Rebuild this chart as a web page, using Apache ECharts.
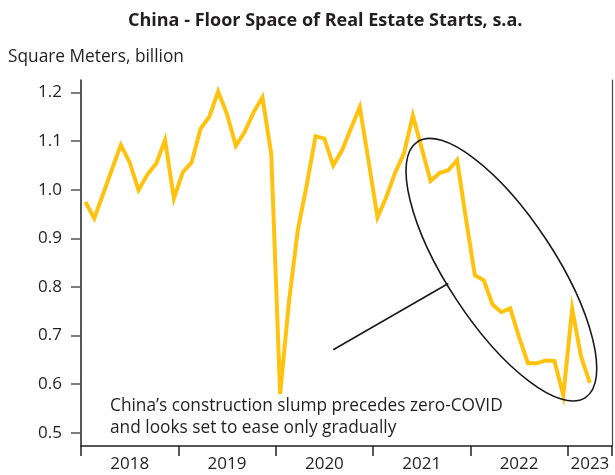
<!DOCTYPE html>
<html>
<head>
<meta charset="utf-8">
<script src="https://cdn.jsdelivr.net/npm/echarts@6/dist/echarts.min.js"></script>
<style>
  html, body { margin: 0; padding: 0; background: #ffffff; }
  #chart { width: 615px; height: 475px; }
</style>
</head>
<body>
<div id="chart"></div>
<script>
// Reporting periods: NBS publishes January and February combined, so 11 points a year.
const years = ['2018', '2019', '2020', '2021', '2022', '2023'];
const periods = ['Jan-Feb', 'Mar', 'Apr', 'May', 'Jun', 'Jul', 'Aug', 'Sep', 'Oct', 'Nov', 'Dec'];
const periods2023 = ['Jan-Feb', 'Mar', 'Apr', 'May', 'Jun'];

const categories = [];
years.forEach(function (y) {
  (y === '2023' ? periods2023 : periods).forEach(function (p) { categories.push(y + ' ' + p); });
});

// Floor space of new real estate starts, seasonally adjusted (square meters, billion)
const floorSpace = [
  0.975, 0.941, 0.991, 1.042, 1.092, 1.056, 0.999, 1.031, 1.054, 1.102, 0.982,
  1.036, 1.056, 1.125, 1.150, 1.202, 1.155, 1.090, 1.119, 1.159, 1.190, 1.073,
  0.580, 0.770, 0.917, 1.009, 1.110, 1.105, 1.050, 1.081, 1.126, 1.170, 1.058,
  0.943, 0.985, 1.035, 1.075, 1.152, 1.085, 1.018, 1.034, 1.040, 1.061, 0.940,
  0.824, 0.814, 0.764, 0.748, 0.756, 0.697, 0.643, 0.643, 0.649, 0.648, 0.577,
  0.755, 0.657, 0.603
];

const yTicks = [0.5, 0.6, 0.7, 0.8, 0.9, 1.0, 1.1, 1.2];
// Year labels sit in the middle of each year's span
const yearLabelAt = ['2018 Jul', '2019 Jul', '2020 Jul', '2021 Jul', '2022 Jul', '2023 Apr'];

const FONT = '"Open Sans"';
const INK = '#231f20';
const GOLD = '#FFC20E';
const LABEL_SIZE = 17;

const chart = echarts.init(document.getElementById('chart'), null, { renderer: 'canvas' });

const yCommon = { type: 'value', min: 0.473, max: 1.2255, splitLine: { show: false } };

chart.setOption({
  animation: false,
  backgroundColor: '#ffffff',
  textStyle: { fontFamily: FONT },
  title: [
    {
      text: 'China - Floor Space of Real Estate Starts, s.a.',
      left: 123, top: 7,
      textStyle: { fontFamily: FONT, fontSize: 18, fontWeight: 'bold', color: INK }
    },
    {
      text: 'Square Meters, billion',
      left: 3, top: 44,
      textStyle: { fontFamily: FONT, fontSize: 17.3, fontWeight: 'normal', color: INK }
    }
  ],
  grid: { left: 81, right: 3, top: 80, bottom: 29, containLabel: false },
  xAxis: {
    type: 'category',
    data: categories,
    boundaryGap: true,
    axisLine: { show: true, lineStyle: { color: INK, width: 1.5 } },
    axisTick: {
      show: true, length: 10,
      interval: function (idx) { return categories[idx].endsWith('Jan-Feb'); },
      lineStyle: { color: INK, width: 1.5 }
    },
    axisLabel: {
      interval: function (idx) { return yearLabelAt.indexOf(categories[idx]) >= 0; },
      formatter: function (v) { return v.slice(0, 4); },
      fontFamily: FONT, fontSize: LABEL_SIZE, color: INK, margin: 10
    },
    splitLine: { show: false }
  },
  yAxis: [
    Object.assign({}, yCommon, {
      position: 'left',
      axisLine: { show: true, lineStyle: { color: INK, width: 1.5 } },
      axisTick: { show: true, length: 10, customValues: yTicks, lineStyle: { color: '#555', width: 1.5 } },
      axisLabel: {
        customValues: yTicks,
        formatter: function (v) { return v.toFixed(1); },
        fontFamily: FONT, fontSize: LABEL_SIZE, color: INK, margin: 19
      }
    }),
    Object.assign({}, yCommon, {
      position: 'right',
      axisLine: { show: true, onZero: false, lineStyle: { color: '#444', width: 1.2 } },
      axisTick: { show: false },
      axisLabel: { show: false }
    })
  ],
  series: [{
    type: 'line',
    data: floorSpace,
    yAxisIndex: 0,
    symbol: 'none',
    lineStyle: { color: GOLD, width: 4, join: 'miter', miterLimit: 10 },
    z: 3
  }]
});

// Annotation: ellipse around the 2021-2023 slide with a leader to the note
const center = chart.convertToPixel({ xAxisIndex: 0, yAxisIndex: 0 }, [47, 0.8355]);
const leadFrom = chart.convertToPixel({ xAxisIndex: 0, yAxisIndex: 0 }, [28, 0.671]);
const leadTo = chart.convertToPixel({ xAxisIndex: 0, yAxisIndex: 0 }, [41, 0.807]);

chart.setOption({
  graphic: [
    {
      type: 'ellipse',
      x: center[0], y: center[1],
      rotation: -56.7 * Math.PI / 180,
      shape: { cx: 0, cy: 0, rx: 153, ry: 54 },
      style: { fill: 'none', stroke: '#1a1a1a', lineWidth: 1.6 },
      z: 10
    },
    {
      type: 'line',
      shape: { x1: leadFrom[0], y1: leadFrom[1], x2: leadTo[0], y2: leadTo[1] },
      style: { stroke: '#1a1a1a', lineWidth: 1.6 },
      z: 10
    },
    {
      type: 'text',
      left: 110, top: 395,
      style: {
        text: 'China\u2019s construction slump precedes zero-COVID\nand looks set to ease only gradually',
        font: '17.3px ' + FONT,
        lineHeight: 22,
        fill: INK
      },
      z: 10
    }
  ]
});
</script>
</body>
</html>
